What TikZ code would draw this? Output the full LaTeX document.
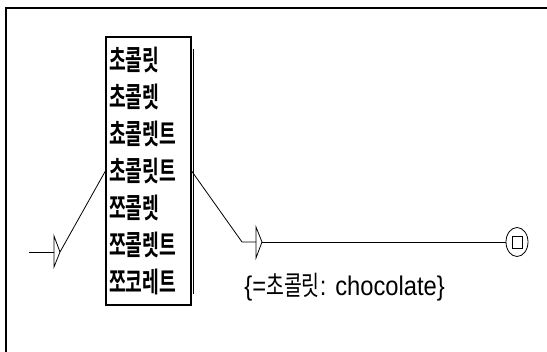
\documentclass[tikz,border=0pt]{standalone}
\usepackage{fontspec}
\setmainfont{Liberation Sans}
\newfontfamily\boxfont[FakeStretch=0.65]{Noto Sans CJK KR Bold}
\newfontfamily\outfont[FakeStretch=0.72]{Noto Sans CJK KR}
\newfontfamily\outlatin[FakeStretch=0.88]{Liberation Sans}
\usetikzlibrary{shapes.geometric}

\begin{document}
\begin{tikzpicture}[x=1pt, y=-1pt, line width=0.8pt]
                \useasboundingbox (0,0) rectangle (547,352);
                \draw [line width=2pt] (6,352) -- (6,8) -- (547,8);
                % box of words
                \node [draw, line width=1.2pt, minimum width=85pt, minimum height=268pt, text width=79pt, inner sep=3pt, align=left, font=\boxfont\fontsize{28}{37}\selectfont] (words) at (148.5,171) {초콜릿\\초콜렛\\쵸콜렛트\\초콜릿트\\쪼콜렛\\쪼콜렛트\\쪼코레트};
                \draw ([xshift=2pt, yshift=-13pt]words.north east) -- ([xshift=2pt, yshift=12pt]words.south east);
                % initial arrow
                \coordinate (start) at (29,252);
                \coordinate (init) at (54,252);
                \coordinate (inittip) at (60,252);
                \draw ([yshift=16pt]init) -- (inittip) -- ([yshift=-15pt]init) -- cycle;
                \draw (start) -- (init);
                \draw (inittip) -- (words.west);
                % empty box with output
                \coordinate (bend) at (242,242);
                \coordinate (eps) at (256,242);
                \coordinate (epstip) at (262,242);
                \draw ([yshift=15pt]eps) -- (epstip) -- ([yshift=-16pt]eps) -- cycle;
                \draw (words.east) -- (bend) -- (eps);
                \node [anchor=west, inner sep=0pt, font=\outlatin\fontsize{27}{27}\selectfont] (output) at (244,287) {\{={\outfont 초콜릿}: chocolate\}};
                % final state
                \node [draw, ellipse, minimum width=22pt, minimum height=29pt, inner sep=0pt] (final) at (517,242) {};
                \node [draw, minimum width=10pt, minimum height=12pt, inner sep=0pt] (finalbox) at (final.center) {};
                \draw (epstip) -- (final);
            \end{tikzpicture}
\end{document}
